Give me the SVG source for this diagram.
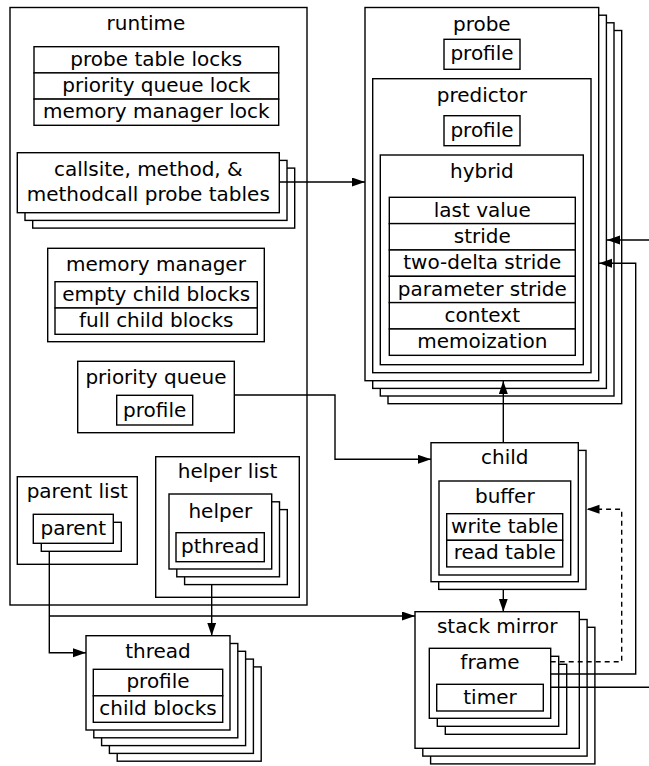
<svg xmlns="http://www.w3.org/2000/svg" width="649" height="766" viewBox="0 0 649 766">
  <style>
    .b { fill: #fff; stroke: #000; stroke-width: 1.4; }
    .t { font-family: "DejaVu Sans", "Liberation Sans", sans-serif; font-size: 20px; text-anchor: middle; fill: #000; }
    .c { fill: none; stroke: #000; stroke-width: 1.4; }
    .d { stroke-dasharray: 5 4; }
  </style>
  <defs>
    <marker id="arrow" markerUnits="userSpaceOnUse" markerWidth="14" markerHeight="10" refX="13" refY="4.5" orient="auto">
      <path d="M0,0 L13,4.5 L0,9 Z" fill="#000"/>
    </marker>
  </defs>

  <rect width="649" height="766" fill="#fff"/>

  <!-- runtime container -->
  <g id="runtime">
    <rect class="b" x="10" y="7.5" width="297" height="597.5"/>
    <text class="t" x="146" y="29.5">runtime</text>
  </g>

  <g id="locks">
    <rect class="b" x="34" y="46.7" width="244.7" height="26.2"/>
    <rect class="b" x="34" y="72.9" width="244.7" height="26.2"/>
    <rect class="b" x="34" y="99.1" width="244.7" height="26.2"/>
    <text class="t" x="156.3" y="65.5">probe table locks</text>
    <text class="t" x="156.3" y="91.7">priority queue lock</text>
    <text class="t" x="156.3" y="118">memory manager lock</text>
  </g>

  <g id="probe-tables">
    <rect class="b" x="32.7" y="168.1" width="262" height="60"/>
    <rect class="b" x="25" y="160.4" width="262" height="60"/>
    <rect class="b" x="17.3" y="152.7" width="262" height="60"/>
    <text class="t" x="148.3" y="176">callsite, method, &amp;</text>
    <text class="t" x="148.3" y="201">methodcall probe tables</text>
  </g>

  <g id="memory-manager">
    <rect class="b" x="47.7" y="248.3" width="216.6" height="93.4"/>
    <text class="t" x="156" y="270.7">memory manager</text>
    <rect class="b" x="55" y="281.7" width="202.3" height="26.3"/>
    <rect class="b" x="55" y="308" width="202.3" height="26.3"/>
    <text class="t" x="156.2" y="301">empty child blocks</text>
    <text class="t" x="156.2" y="327.3">full child blocks</text>
  </g>

  <g id="priority-queue">
    <rect class="b" x="77.7" y="361.3" width="156.6" height="71.4"/>
    <text class="t" x="156" y="384">priority queue</text>
    <rect class="b" x="116.7" y="395.3" width="76" height="29.7"/>
    <text class="t" x="154.7" y="416.5">profile</text>
  </g>

  <g id="parent-list">
    <rect class="b" x="17.3" y="476.7" width="120" height="87.6"/>
    <text class="t" x="77.3" y="498.3">parent list</text>
    <rect class="b" x="41.3" y="522.3" width="80" height="29"/>
    <rect class="b" x="33.3" y="514.3" width="80" height="29"/>
    <text class="t" x="73.3" y="535">parent</text>
  </g>

  <g id="helper-list">
    <rect class="b" x="155.7" y="456.7" width="143.6" height="140.6"/>
    <text class="t" x="227.5" y="478.3">helper list</text>
    <rect class="b" x="184.6" y="509.6" width="102.7" height="75"/>
    <rect class="b" x="176.8" y="501.8" width="102.7" height="75"/>
    <rect class="b" x="169" y="494" width="102.7" height="75"/>
    <text class="t" x="220.3" y="517.7">helper</text>
    <rect class="b" x="176" y="532.7" width="88.3" height="29"/>
    <text class="t" x="220.2" y="553.2">pthread</text>
  </g>

  <g id="thread">
    <rect class="b" x="117.2" y="666.9" width="144" height="94.3"/>
    <rect class="b" x="109.4" y="659.1" width="144" height="94.3"/>
    <rect class="b" x="101.6" y="651.3" width="144" height="94.3"/>
    <rect class="b" x="93.8" y="643.5" width="144" height="94.3"/>
    <rect class="b" x="86" y="635.7" width="144" height="94.3"/>
    <text class="t" x="158" y="658.3">thread</text>
    <rect class="b" x="93.3" y="669.3" width="129.4" height="26.5"/>
    <rect class="b" x="93.3" y="695.8" width="129.4" height="26.5"/>
    <text class="t" x="158" y="688.3">profile</text>
    <text class="t" x="158" y="715">child blocks</text>
  </g>

  <g id="probe">
    <rect class="b" x="388" y="30.5" width="233.7" height="373.2"/>
    <rect class="b" x="380.3" y="22.8" width="233.7" height="373.2"/>
    <rect class="b" x="372.7" y="15.2" width="233.7" height="373.2"/>
    <rect class="b" x="365" y="7.5" width="233.7" height="373.2"/>
    <text class="t" x="481.8" y="30.5">probe</text>
    <rect class="b" x="444" y="39.3" width="76" height="30"/>
    <text class="t" x="482" y="60.3">profile</text>
  </g>

  <g id="predictor">
    <rect class="b" x="372.7" y="78.7" width="218.3" height="294"/>
    <text class="t" x="481.9" y="101.5">predictor</text>
    <rect class="b" x="444" y="115.7" width="76" height="30"/>
    <text class="t" x="482" y="136.7">profile</text>
  </g>

  <g id="hybrid">
    <rect class="b" x="380.3" y="155" width="203" height="209.7"/>
    <text class="t" x="481.8" y="178">hybrid</text>
    <rect class="b" x="389.3" y="197.3" width="186" height="26.33"/>
    <rect class="b" x="389.3" y="223.6" width="186" height="26.33"/>
    <rect class="b" x="389.3" y="250" width="186" height="26.33"/>
    <rect class="b" x="389.3" y="276.3" width="186" height="26.33"/>
    <rect class="b" x="389.3" y="302.6" width="186" height="26.33"/>
    <rect class="b" x="389.3" y="329" width="186" height="26.33"/>
    <text class="t" x="482.3" y="216.5">last value</text>
    <text class="t" x="482.3" y="242.8">stride</text>
    <text class="t" x="482.3" y="269.1">two-delta stride</text>
    <text class="t" x="482.3" y="295.5">parameter stride</text>
    <text class="t" x="482.3" y="321.8">context</text>
    <text class="t" x="482.3" y="348.1">memoization</text>
  </g>

  <g id="child">
    <rect class="b" x="438.7" y="450.4" width="147.3" height="139"/>
    <rect class="b" x="431" y="442.7" width="147.3" height="139"/>
    <text class="t" x="504.7" y="464.3">child</text>
  </g>

  <g id="buffer">
    <rect class="b" x="439" y="481" width="131.7" height="94"/>
    <text class="t" x="504.8" y="503.3">buffer</text>
    <rect class="b" x="446.7" y="513.7" width="116" height="26.6"/>
    <rect class="b" x="446.7" y="540.3" width="116" height="26.6"/>
    <text class="t" x="504.7" y="532.7">write table</text>
    <text class="t" x="504.7" y="559.3">read table</text>
  </g>

  <g id="stack-mirror">
    <rect class="b" x="430.6" y="627.3" width="164.3" height="136.6"/>
    <rect class="b" x="422.8" y="619.5" width="164.3" height="136.6"/>
    <rect class="b" x="415" y="611.7" width="164.3" height="136.6"/>
    <text class="t" x="497.2" y="633.3">stack mirror</text>
  </g>

  <g id="frame">
    <rect class="b" x="445.3" y="664.3" width="121.4" height="70"/>
    <rect class="b" x="437.3" y="656.3" width="121.4" height="70"/>
    <rect class="b" x="429.3" y="648.3" width="121.4" height="70"/>
    <text class="t" x="490" y="669.3">frame</text>
    <rect class="b" x="436.7" y="684.3" width="106.6" height="26.7"/>
    <text class="t" x="490" y="703.8">timer</text>
  </g>

  <!-- connectors -->
  <g id="connectors">
    <path class="c" d="M279.3,182 H365" marker-end="url(#arrow)"/>
    <path class="c" d="M234.3,395 H335 V459.3 H431" marker-end="url(#arrow)"/>
    <path class="c" d="M503.3,442.7 V381" marker-end="url(#arrow)"/>
    <path class="c" d="M503.3,589.4 V611.7" marker-end="url(#arrow)"/>
    <path class="c" d="M649,240 H607" marker-end="url(#arrow)"/>
    <path class="c" d="M550.7,674 H635.7 V263.3 H599" marker-end="url(#arrow)"/>
    <path class="c d" d="M550.7,661.7 H621.7 V509.3 H586.5" marker-end="url(#arrow)"/>
    <path class="c" d="M550.7,687.3 H649"/>
    <path class="c" d="M49.3,551.3 V652.7 H86" marker-end="url(#arrow)"/>
    <path class="c" d="M49.3,616 H415" marker-end="url(#arrow)"/>
    <path class="c" d="M211.7,584.6 V635.7" marker-end="url(#arrow)"/>
  </g>
</svg>
